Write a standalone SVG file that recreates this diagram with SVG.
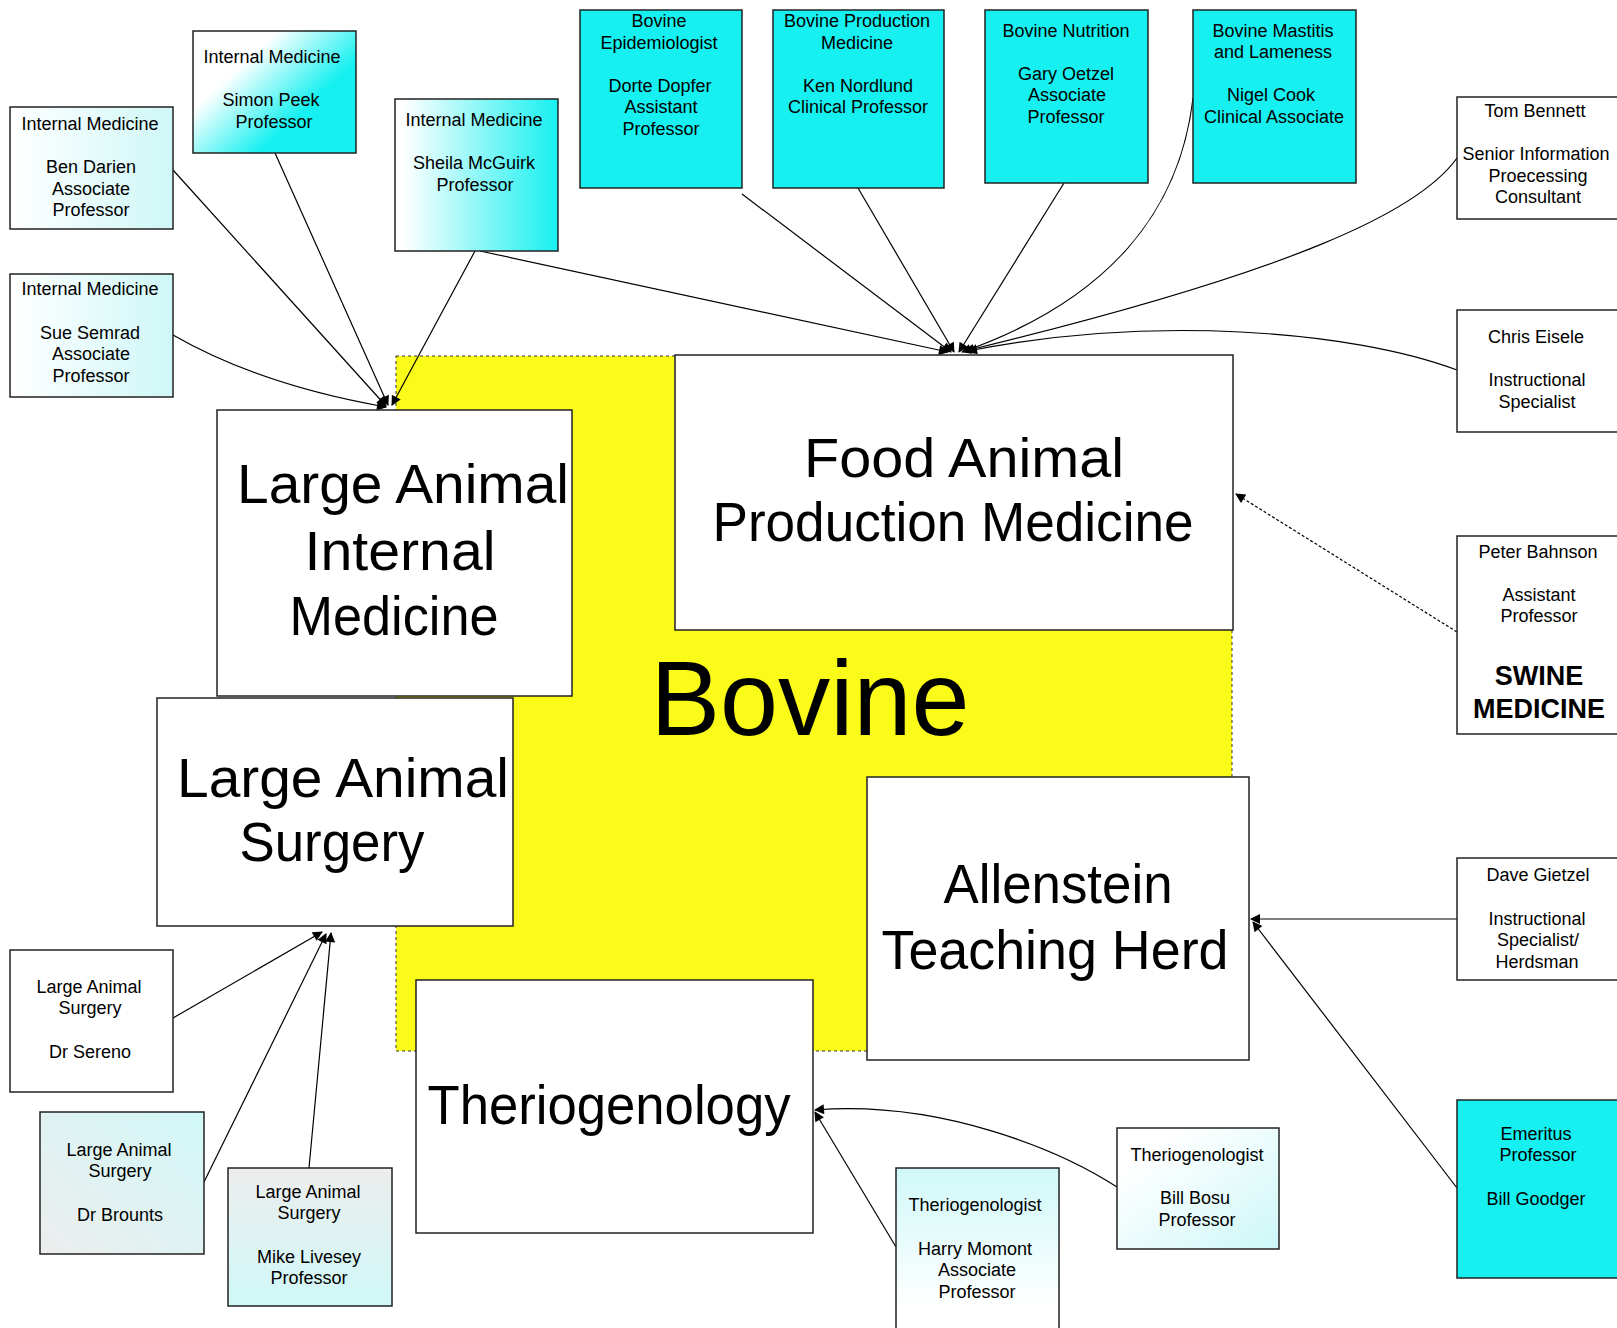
<svg xmlns="http://www.w3.org/2000/svg" width="1617" height="1328" viewBox="0 0 1617 1328">
<style>
.box{stroke:#222;stroke-width:1.5}
.t{font-family:"Liberation Sans",Arial,sans-serif;font-size:18px;text-anchor:middle;fill:#000}
.big{font-size:56px}
.conn{fill:none;stroke:#000;stroke-width:1.2;marker-end:url(#arr)}
.cy{fill:#17F0F0}
.wh{fill:#fff}
</style>
<defs>
<marker id="arr" viewBox="0 0 10 10" refX="9" refY="5" markerWidth="12" markerHeight="10" markerUnits="userSpaceOnUse" orient="auto"><path d="M0,0 L10,5 L0,10 z" fill="#000"/></marker>
<linearGradient id="gH" x1="0" y1="0" x2="1" y2="0"><stop offset="0" stop-color="#fff"/><stop offset="1" stop-color="#cff7f7"/></linearGradient>
<linearGradient id="gSimon" x1="0.15" y1="0" x2="0.9" y2="0.6"><stop offset="0.3" stop-color="#fff"/><stop offset="0.85" stop-color="#17F0F0"/></linearGradient>
<linearGradient id="gSheila" x1="0" y1="0" x2="1" y2="0"><stop offset="0.05" stop-color="#fff"/><stop offset="1" stop-color="#17F0F0"/></linearGradient>
<linearGradient id="gBrounts" x1="0" y1="1" x2="1" y2="0"><stop offset="0" stop-color="#ededed"/><stop offset="1" stop-color="#d2f8f8"/></linearGradient>
<linearGradient id="gLivesey" x1="0" y1="0" x2="0" y2="1"><stop offset="0" stop-color="#ededed"/><stop offset="1" stop-color="#d0f8f8"/></linearGradient>
<linearGradient id="gHarry" x1="0" y1="0" x2="0" y2="1"><stop offset="0" stop-color="#d0f8f8"/><stop offset="0.8" stop-color="#fff"/></linearGradient>
<linearGradient id="gBosu" x1="0" y1="0" x2="1" y2="1"><stop offset="0.2" stop-color="#fff"/><stop offset="1" stop-color="#cdf7f7"/></linearGradient>
</defs>
<rect width="1617" height="1328" fill="#fff"/>

<g id="bovine">
<rect x="396" y="356" width="836" height="695" fill="#FBFB1A" stroke="#333" stroke-width="1" stroke-dasharray="3,3"/>
<text class="t" x="810" y="735" style="font-size:105px" textLength="319" lengthAdjust="spacingAndGlyphs">Bovine</text>
</g>

<g id="connectors">
<path class="conn" d="M173,170 L386,406"/>
<path class="conn" d="M275,153 L388,405"/>
<path class="conn" d="M173,335 Q260,385 386,407"/>
<path class="conn" d="M475,251 L392,405"/>
<path class="conn" d="M480,251 L948,352"/>
<path class="conn" d="M742,194 L951,352"/>
<path class="conn" d="M858,188 L954,352"/>
<path class="conn" d="M1064,183 L959,352"/>
<path class="conn" d="M1193,98 C1180,210 1110,300 962,352"/>
<path class="conn" d="M1457,158 C1420,210 1300,270 965,351"/>
<path class="conn" d="M1457,370 C1350,330 1150,315 968,351"/>
<path class="conn" d="M1457,632 L1236,494" stroke-dasharray="3,2"/>
<path class="conn" d="M173,1018 L322,932"/>
<path class="conn" d="M204,1182 L326,934"/>
<path class="conn" d="M309,1168 L331,933"/>
<path class="conn" d="M1457,919 L1251,919"/>
<path class="conn" d="M1457,1188 L1253,922"/>
<path class="conn" d="M1117,1187 C1060,1150 940,1100 815,1110"/>
<path class="conn" d="M896,1247 L815,1112"/>
</g>

<g id="large-animal-internal-medicine">
<rect class="box wh" x="217" y="410" width="355" height="286"/>
<text class="t big" x="403" y="503" textLength="332" lengthAdjust="spacingAndGlyphs">Large Animal</text>
<text class="t big" x="400" y="570" textLength="191" lengthAdjust="spacingAndGlyphs">Internal</text>
<text class="t big" x="394" y="635" textLength="209" lengthAdjust="spacingAndGlyphs">Medicine</text>
</g>
<g id="food-animal-production-medicine">
<rect class="box wh" x="675" y="355" width="558" height="275"/>
<text class="t big" x="964" y="477" textLength="320" lengthAdjust="spacingAndGlyphs">Food Animal</text>
<text class="t big" x="953" y="541" textLength="481" lengthAdjust="spacingAndGlyphs">Production Medicine</text>
</g>
<g id="large-animal-surgery">
<rect class="box wh" x="157" y="698" width="356" height="228"/>
<text class="t big" x="343" y="797" textLength="332" lengthAdjust="spacingAndGlyphs">Large Animal</text>
<text class="t big" x="332" y="861" textLength="185" lengthAdjust="spacingAndGlyphs">Surgery</text>
</g>
<g id="allenstein-teaching-herd">
<rect class="box wh" x="867" y="777" width="382" height="283"/>
<text class="t big" x="1058" y="903" textLength="229" lengthAdjust="spacingAndGlyphs">Allenstein</text>
<text class="t big" x="1055" y="969" textLength="347" lengthAdjust="spacingAndGlyphs">Teaching Herd</text>
</g>
<g id="theriogenology">
<rect class="box wh" x="416" y="980" width="397" height="253"/>
<text class="t big" x="609" y="1124" textLength="363" lengthAdjust="spacingAndGlyphs">Theriogenology</text>
</g>

<g id="ben-darien">
<rect class="box" fill="url(#gH)" x="10" y="107" width="163" height="122"/>
<text class="t"><tspan x="90" y="130">Internal Medicine</tspan><tspan x="91" y="173">Ben Darien</tspan><tspan x="91" y="194.5">Associate</tspan><tspan x="91" y="216">Professor</tspan></text>
</g>
<g id="simon-peek">
<rect class="box" fill="url(#gSimon)" x="193" y="31" width="163" height="122"/>
<text class="t"><tspan x="272" y="63">Internal Medicine</tspan><tspan x="271" y="106">Simon Peek</tspan><tspan x="274" y="127.5">Professor</tspan></text>
</g>
<g id="sue-semrad">
<rect class="box" fill="url(#gH)" x="10" y="274" width="163" height="123"/>
<text class="t"><tspan x="90" y="295">Internal Medicine</tspan><tspan x="90" y="338.5">Sue Semrad</tspan><tspan x="91" y="360">Associate</tspan><tspan x="91" y="381.5">Professor</tspan></text>
</g>
<g id="sheila-mcguirk">
<rect class="box" fill="url(#gSheila)" x="395" y="99" width="163" height="152"/>
<text class="t"><tspan x="474" y="126">Internal Medicine</tspan><tspan x="474" y="169">Sheila McGuirk</tspan><tspan x="475" y="190.5">Professor</tspan></text>
</g>
<g id="dorte-dopfer">
<rect class="box cy" x="580" y="10" width="162" height="178"/>
<text class="t"><tspan x="659" y="27">Bovine</tspan><tspan x="659" y="48.5">Epidemiologist</tspan><tspan x="660" y="91.5">Dorte Dopfer</tspan><tspan x="661" y="113">Assistant</tspan><tspan x="661" y="134.5">Professor</tspan></text>
</g>
<g id="ken-nordlund">
<rect class="box cy" x="773" y="10" width="171" height="178"/>
<text class="t"><tspan x="857" y="27">Bovine Production</tspan><tspan x="857" y="48.5">Medicine</tspan><tspan x="858" y="91.5">Ken Nordlund</tspan><tspan x="858" y="113">Clinical Professor</tspan></text>
</g>
<g id="gary-oetzel">
<rect class="box cy" x="985" y="10" width="163" height="173"/>
<text class="t"><tspan x="1066" y="36.5">Bovine Nutrition</tspan><tspan x="1066" y="79.5">Gary Oetzel</tspan><tspan x="1067" y="101">Associate</tspan><tspan x="1066" y="122.5">Professor</tspan></text>
</g>
<g id="nigel-cook">
<rect class="box cy" x="1193" y="10" width="163" height="173"/>
<text class="t"><tspan x="1273" y="36.5">Bovine Mastitis</tspan><tspan x="1273" y="58">and Lameness</tspan><tspan x="1271" y="101">Nigel Cook</tspan><tspan x="1274" y="122.5">Clinical Associate</tspan></text>
</g>
<g id="tom-bennett">
<rect class="box wh" x="1457" y="97" width="167" height="122"/>
<text class="t"><tspan x="1535" y="117">Tom Bennett</tspan><tspan x="1536" y="160">Senior Information</tspan><tspan x="1538" y="181.5">Proecessing</tspan><tspan x="1538" y="203">Consultant</tspan></text>
</g>
<g id="chris-eisele">
<rect class="box wh" x="1457" y="310" width="167" height="122"/>
<text class="t"><tspan x="1536" y="342.5">Chris Eisele</tspan><tspan x="1537" y="386">Instructional</tspan><tspan x="1537" y="407.5">Specialist</tspan></text>
</g>
<g id="peter-bahnson">
<rect class="box wh" x="1457" y="536" width="167" height="198"/>
<text class="t"><tspan x="1538" y="558">Peter Bahnson</tspan><tspan x="1539" y="600.5">Assistant</tspan><tspan x="1539" y="622">Professor</tspan></text>
<text class="t" style="font-size:27px;font-weight:bold"><tspan x="1539" y="685">SWINE</tspan><tspan x="1539" y="718">MEDICINE</tspan></text>
</g>
<g id="dave-gietzel">
<rect class="box wh" x="1457" y="858" width="167" height="122"/>
<text class="t"><tspan x="1538" y="881">Dave Gietzel</tspan><tspan x="1537" y="924.5">Instructional</tspan><tspan x="1538" y="946">Specialist/</tspan><tspan x="1537" y="967.5">Herdsman</tspan></text>
</g>
<g id="bill-goodger">
<rect class="box cy" x="1457" y="1100" width="167" height="178"/>
<text class="t"><tspan x="1536" y="1139.5">Emeritus</tspan><tspan x="1538" y="1161">Professor</tspan><tspan x="1536" y="1204.5">Bill Goodger</tspan></text>
</g>
<g id="bill-bosu">
<rect class="box" fill="url(#gBosu)" x="1117" y="1128" width="162" height="121"/>
<text class="t"><tspan x="1197" y="1160.5">Theriogenologist</tspan><tspan x="1195" y="1204">Bill Bosu</tspan><tspan x="1197" y="1225.5">Professor</tspan></text>
</g>
<g id="harry-momont">
<rect class="box" fill="url(#gHarry)" x="896" y="1168" width="163" height="175"/>
<text class="t"><tspan x="975" y="1211">Theriogenologist</tspan><tspan x="975" y="1254.5">Harry Momont</tspan><tspan x="977" y="1276">Associate</tspan><tspan x="977" y="1297.5">Professor</tspan></text>
</g>
<g id="mike-livesey">
<rect class="box" fill="url(#gLivesey)" x="228" y="1168" width="164" height="138"/>
<text class="t"><tspan x="308" y="1197.5">Large Animal</tspan><tspan x="309" y="1219">Surgery</tspan><tspan x="309" y="1262.5">Mike Livesey</tspan><tspan x="309" y="1284">Professor</tspan></text>
</g>
<g id="dr-brounts">
<rect class="box" fill="url(#gBrounts)" x="40" y="1112" width="164" height="142"/>
<text class="t"><tspan x="119" y="1155.5">Large Animal</tspan><tspan x="120" y="1177">Surgery</tspan><tspan x="120" y="1220.5">Dr Brounts</tspan></text>
</g>
<g id="dr-sereno">
<rect class="box wh" x="10" y="950" width="163" height="142"/>
<text class="t"><tspan x="89" y="992.5">Large Animal</tspan><tspan x="90" y="1014">Surgery</tspan><tspan x="90" y="1057.5">Dr Sereno</tspan></text>
</g>
</svg>
